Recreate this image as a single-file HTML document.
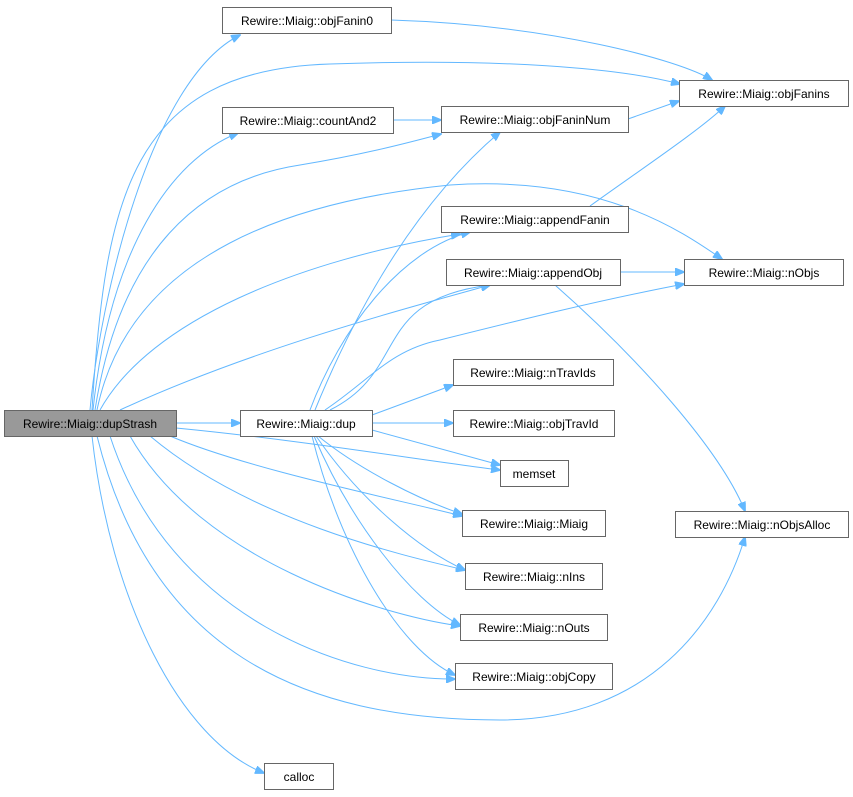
<!DOCTYPE html>
<html><head><meta charset="utf-8"><style>
html,body{margin:0;padding:0;background:#fff;}
svg{display:block;}
text{font-family:"Liberation Sans",Arial,sans-serif;font-size:12px;fill:#000;}
.n{fill:#fff;stroke:#666;stroke-width:1;}
.e{fill:none;stroke:#63b8ff;stroke-width:1;}
</style></head><body>
<svg width="853" height="797" viewBox="0 0 853 797" xmlns="http://www.w3.org/2000/svg">
<defs><marker id="a" markerWidth="10" markerHeight="8" refX="9" refY="4" orient="auto" markerUnits="userSpaceOnUse"><path d="M0,0 L10,4 L0,8 z" fill="#63b8ff" stroke="#63b8ff"/></marker></defs>
<g class="e" marker-end="url(#a)">
<path d="M90,410 C100,300 150,80 240,35"/>
<path d="M92,410 C105,200 130,70 330,64 C500,58 620,68 680,84"/>
<path d="M93,410 C110,250 170,160 238,133"/>
<path d="M95,410 C120,250 200,180 300,165 C360,155 400,145 441,134"/>
<path d="M97,410 C130,250 300,200 450,185 C600,175 680,230 722,259"/>
<path d="M100,410 C150,320 300,260 460,234"/>
<path d="M120,410 C250,350 400,310 490,285"/>
<path d="M176,423 L240,423"/>
<path d="M176,428 C300,440 420,460 500,470"/>
<path d="M170,436 C250,470 400,500 462,516"/>
<path d="M150,436 C250,520 400,555 465,570"/>
<path d="M130,436 C200,560 380,615 460,626"/>
<path d="M110,436 C170,620 350,680 455,679"/>
<path d="M97,436 C150,650 300,720 500,720 C650,720 720,620 745,537"/>
<path d="M92,436 C110,600 180,740 264,773"/>
<path d="M315,410 C360,300 420,200 500,132"/>
<path d="M325,410 C370,380 390,350 440,340 C520,320 600,300 684,284"/>
<path d="M330,410 C410,370 370,300 490,285"/>
<path d="M310,410 C340,330 400,250 470,232"/>
<path d="M372,415 L453,385"/>
<path d="M372,423 L453,423"/>
<path d="M372,430 L500,465"/>
<path d="M318,436 C360,470 420,500 462,514"/>
<path d="M316,436 C360,500 420,550 465,570"/>
<path d="M314,436 C350,520 410,600 460,625"/>
<path d="M312,436 C340,550 400,650 455,675"/>
<path d="M393,120 L441,120"/>
<path d="M391,20 C550,25 680,60 712,80"/>
<path d="M628,119 L679,101"/>
<path d="M590,206 C640,170 700,130 725,106"/>
<path d="M620,272 L684,272"/>
<path d="M555,285 C640,360 720,450 745,511"/>
</g>
<rect x="4.5" y="410.5" width="172" height="26" fill="#999" stroke="#666"/>
<text x="90" y="428" text-anchor="middle">Rewire::Miaig::dupStrash</text>
<g>
<rect class="n" x="222.5" y="7.5" width="169" height="26"/><text x="307" y="25" text-anchor="middle">Rewire::Miaig::objFanin0</text>
<rect class="n" x="222.5" y="107.5" width="171" height="26"/><text x="308" y="125" text-anchor="middle">Rewire::Miaig::countAnd2</text>
<rect class="n" x="679.5" y="80.5" width="169" height="26"/><text x="764" y="98" text-anchor="middle">Rewire::Miaig::objFanins</text>
<rect class="n" x="441.5" y="106.5" width="187" height="26"/><text x="535" y="124" text-anchor="middle">Rewire::Miaig::objFaninNum</text>
<rect class="n" x="441.5" y="206.5" width="187" height="26"/><text x="535" y="224" text-anchor="middle">Rewire::Miaig::appendFanin</text>
<rect class="n" x="446.5" y="259.5" width="174" height="26"/><text x="533" y="277" text-anchor="middle">Rewire::Miaig::appendObj</text>
<rect class="n" x="684.5" y="259.5" width="159" height="26"/><text x="764" y="277" text-anchor="middle">Rewire::Miaig::nObjs</text>
<rect class="n" x="453.5" y="359.5" width="160" height="26"/><text x="533" y="377" text-anchor="middle">Rewire::Miaig::nTravIds</text>
<rect class="n" x="240.5" y="410.5" width="132" height="26"/><text x="306" y="428" text-anchor="middle">Rewire::Miaig::dup</text>
<rect class="n" x="453.5" y="410.5" width="161" height="26"/><text x="534" y="428" text-anchor="middle">Rewire::Miaig::objTravId</text>
<rect class="n" x="500.5" y="460.5" width="68" height="26"/><text x="534" y="478" text-anchor="middle">memset</text>
<rect class="n" x="462.5" y="510.5" width="143" height="26"/><text x="534" y="528" text-anchor="middle">Rewire::Miaig::Miaig</text>
<rect class="n" x="675.5" y="511.5" width="173" height="26"/><text x="762" y="529" text-anchor="middle">Rewire::Miaig::nObjsAlloc</text>
<rect class="n" x="465.5" y="563.5" width="137" height="26"/><text x="534" y="581" text-anchor="middle">Rewire::Miaig::nIns</text>
<rect class="n" x="460.5" y="614.5" width="147" height="26"/><text x="534" y="632" text-anchor="middle">Rewire::Miaig::nOuts</text>
<rect class="n" x="455.5" y="663.5" width="157" height="26"/><text x="534" y="681" text-anchor="middle">Rewire::Miaig::objCopy</text>
<rect class="n" x="264.5" y="763.5" width="69" height="26"/><text x="299" y="781" text-anchor="middle">calloc</text>
</g>
</svg>
</body></html>
